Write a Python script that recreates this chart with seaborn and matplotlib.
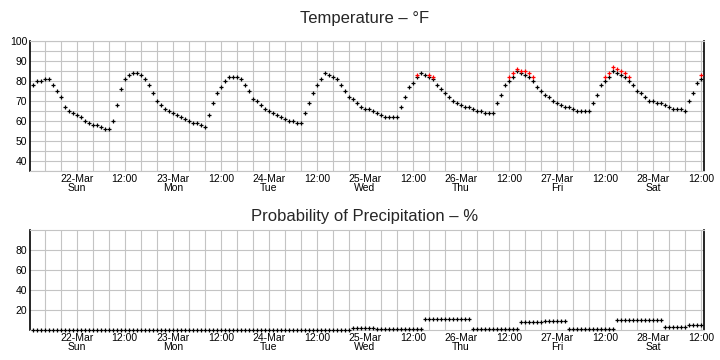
import numpy as np
import pandas as pd
import matplotlib
matplotlib.use("Agg")
import matplotlib.pyplot as plt
import matplotlib.dates as mdates
import seaborn as sns

# hourly forecast, first point 21-Mar 13:00
start = "2026-03-21 13:00"

temp_f = [78, 80, 80, 81, 81, 78, 75, 72, 67, 65, 64, 63,
          62, 60, 59, 58, 58, 57, 56, 56, 60, 68, 76, 81,
          83, 84, 84, 83, 81, 78, 74, 70, 68, 66, 65, 64,
          63, 62, 61, 60, 59, 59, 58, 57, 63, 69, 74, 77,
          80, 82, 82, 82, 81, 78, 75, 71, 70, 68, 66, 65,
          64, 63, 62, 61, 60, 60, 59, 59, 64, 69, 74, 78,
          81, 84, 83, 82, 81, 78, 75, 72, 71, 69, 67, 66,
          66, 65, 64, 63, 62, 62, 62, 62, 67, 72, 77, 79,
          82, 84, 83, 82, 81, 78, 76, 74, 72, 70, 69, 68,
          67, 67, 66, 65, 65, 64, 64, 64, 69, 73, 78, 80,
          82, 85, 84, 83, 82, 80, 77, 75, 73, 72, 70, 69,
          68, 67, 67, 66, 65, 65, 65, 65, 69, 73, 78, 80,
          82, 85, 84, 83, 82, 80, 78, 75, 74, 72, 70, 70,
          69, 69, 68, 67, 66, 66, 66, 65, 70, 74, 79, 81]

# heat index, only shown where it is above the temperature
heat_hours = [96, 99, 100, 119, 120, 121, 122, 123, 124, 125,
              143, 144, 145, 146, 147, 148, 149, 167]
heat_f = [83, 83, 82, 82, 84, 86, 85, 85, 84, 82,
          82, 84, 87, 86, 85, 84, 82, 83]

pop_pct = [0, 0, 0, 0, 0, 0, 0, 0, 0, 0, 0, 0,
           0, 0, 0, 0, 0, 0, 0, 0, 0, 0, 0, 0,
           0, 0, 0, 0, 0, 0, 0, 0, 0, 0, 0, 0,
           0, 0, 0, 0, 0, 0, 0, 0, 0, 0, 0, 0,
           0, 0, 0, 0, 0, 0, 0, 0, 0, 0, 0, 0,
           0, 0, 0, 0, 0, 0, 0, 0, 0, 0, 0, 0,
           0, 0, 0, 0, 0, 0, 0, 0, 2, 2, 2, 2,
           2, 2, 1, 1, 1, 1, 1, 1, 1, 1, 1, 1,
           1, 1, 11, 11, 11, 11, 11, 11, 11, 11, 11, 11,
           11, 11, 1, 1, 1, 1, 1, 1, 1, 1, 1, 1,
           1, 1, 8, 8, 8, 8, 8, 8, 9, 9, 9, 9,
           9, 9, 1, 1, 1, 1, 1, 1, 1, 1, 1, 1,
           1, 1, 10, 10, 10, 10, 10, 10, 10, 10, 10, 10,
           10, 10, 3, 3, 3, 3, 3, 3, 5, 5, 5, 5]

tick_labels = ["22-Mar\nSun", "12:00", "23-Mar\nMon", "12:00", "24-Mar\nTue", "12:00",
               "25-Mar\nWed", "12:00", "26-Mar\nThu", "12:00", "27-Mar\nFri", "12:00",
               "28-Mar\nSat", "12:00"]

times = pd.date_range(start, periods=len(temp_f), freq="h")
df = pd.DataFrame({"time": times, "temp": temp_f, "pop": pop_pct})
hi = pd.DataFrame({"time": times[heat_hours], "temp": heat_f})
ticks = pd.date_range("2026-03-22 00:00", periods=len(tick_labels), freq="12h")

sns.set_style("white")
plt.rcParams["font.family"] = ["Liberation Sans", "DejaVu Sans"]

fig = plt.figure(figsize=(7.2, 3.6), dpi=100)
ax1 = fig.add_axes([30/720, 1 - 171/360, 674/720, 130/360])
ax2 = fig.add_axes([30/720, 1 - 330/360, 674/720, 100/360])

mk = dict(marker="+", s=9, linewidth=0.9, clip_on=False, zorder=3, legend=False)
sns.scatterplot(data=df, x="time", y="temp", ax=ax1, color="black", **mk)
sns.scatterplot(data=hi, x="time", y="temp", ax=ax1, color="#ff0000", **mk)
sns.scatterplot(data=df, x="time", y="pop", ax=ax2, color="black", **mk)

xmin = pd.Timestamp("2026-03-21 12:20")
xmax = pd.Timestamp("2026-03-28 12:40")

for ax in (ax1, ax2):
    ax.set_xlim(xmin, xmax)
    ax.set_xticks(ticks)
    ax.set_xticklabels(tick_labels, linespacing=0.85)
    ax.xaxis.set_minor_locator(mdates.HourLocator(byhour=[4, 8, 16, 20]))
    ax.grid(which="both", color="#c4c4c4", linewidth=0.8)
    ax.set_axisbelow(True)
    ax.tick_params(which="both", length=0, labelsize=7.5, pad=2, colors="black")
    ax.set_xlabel("")
    ax.set_ylabel("")
    ax.spines["left"].set_color("black")
    ax.spines["right"].set_color("black")
    ax.spines["left"].set_linewidth(1.2)
    ax.spines["right"].set_linewidth(1.2)
    ax.spines["top"].set_color("#c4c4c4")
    ax.spines["bottom"].set_color("#c4c4c4")
    ax.spines["top"].set_linewidth(0.8)
    ax.spines["bottom"].set_linewidth(0.8)

ax1.set_ylim(35, 100)
ax1.set_yticks([40, 50, 60, 70, 80, 90, 100])
ax1.set_yticks([35, 45, 55, 65, 75, 85, 95], minor=True)

ax2.set_ylim(0, 100)
ax2.set_yticks([20, 40, 60, 80])

fig.text(0.507, 0.95, "Temperature – °F", ha="center", va="center", fontsize=12)
fig.text(0.507, 0.40, "Probability of Precipitation – %", ha="center", va="center", fontsize=12)

fig.savefig("out.png", dpi=100)
